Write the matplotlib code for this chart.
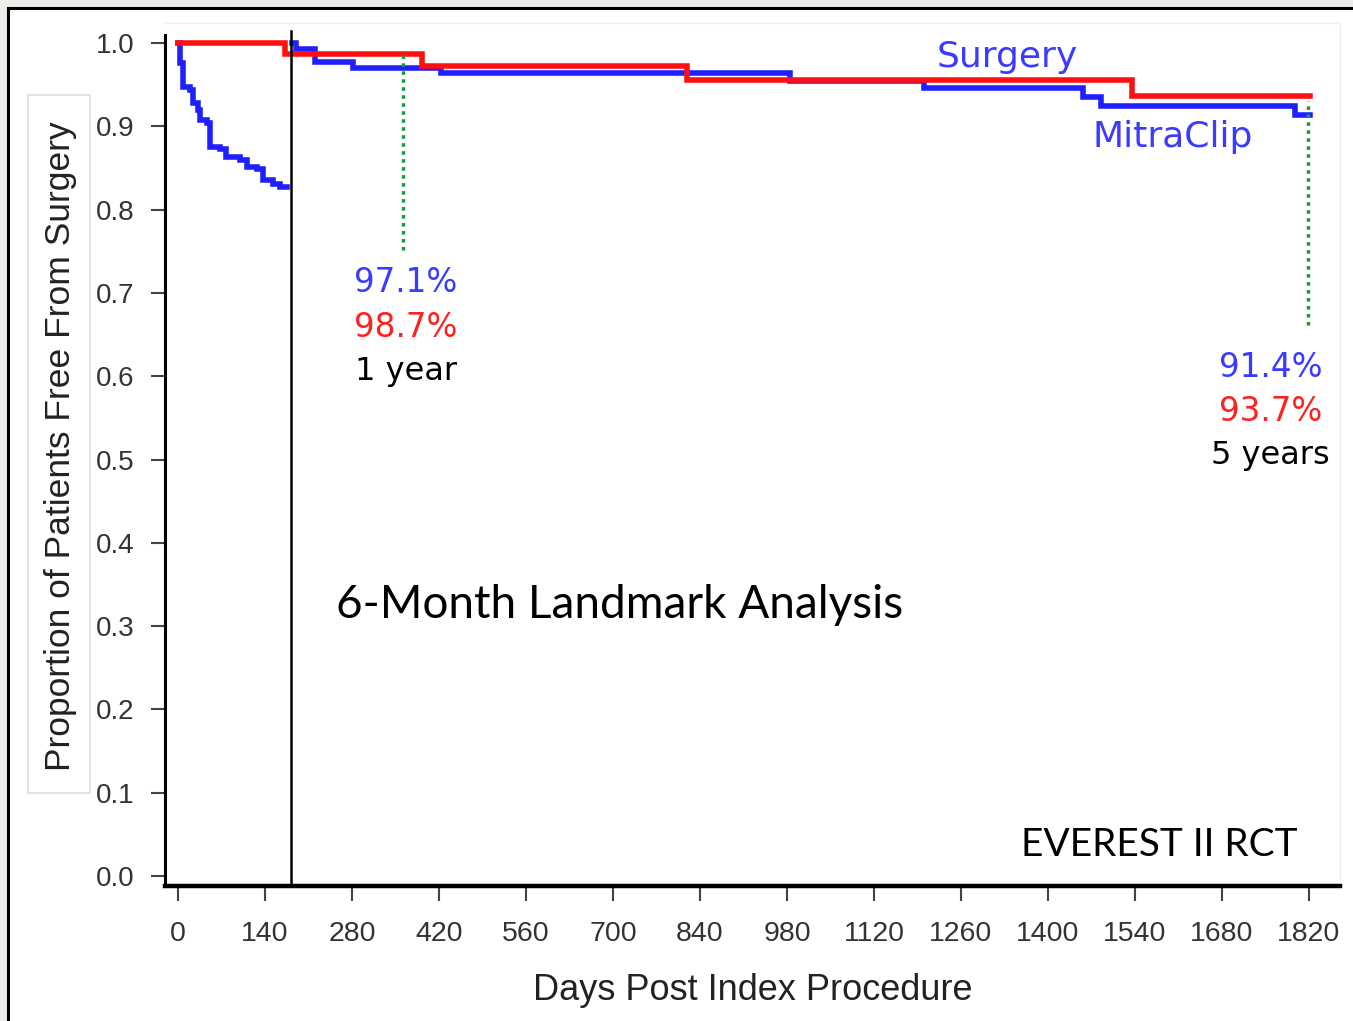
import numpy as np
import matplotlib.pyplot as plt
from matplotlib.patches import Rectangle
from matplotlib.lines import Line2D

# Kaplan-Meier steps (days, proportion)
clip_pre_t = [0, 3, 8.6, 19, 24.7, 32.7, 35.4, 46, 51.5, 67.6, 78, 100, 110.5, 126.6, 137, 153, 164, 175]
clip_pre_s = [1.0, 0.976, 0.947, 0.944, 0.928, 0.920, 0.908, 0.904, 0.875, 0.873, 0.863, 0.860, 0.851, 0.849, 0.836, 0.831, 0.827, 0.827]

clip_post_t = [183, 190, 220, 282, 424, 985, 1200, 1457, 1486, 1797, 1822]
clip_post_s = [1.0, 0.993, 0.977, 0.970, 0.964, 0.954, 0.946, 0.935, 0.924, 0.914, 0.914]

surg_t = [0, 172, 392, 819, 1535, 1822]
surg_s = [1.0, 0.987, 0.972, 0.956, 0.936, 0.936]

landmark_day = 182
marks_day = [362, 1819]
marks_top = [0.985, 0.930]
marks_bottom = [0.751, 0.661]

x_ticks = np.arange(0, 1821, 140)
y_ticks = np.round(np.arange(0, 1.01, 0.1), 1)

BLUE = "#1f1fff"
RED = "#ff1010"
TBLUE = "#3b3bff"
TRED = "#ff2020"

W, H = 1353, 1021
fig = plt.figure(figsize=(W / 100, H / 100), dpi=100)
fig.patch.set_facecolor("#eeede9")

# white page with black frame (screenshot edge)
fig.patches.append(Rectangle((8 / W, -0.01), 1.02, (H - 8) / H + 0.01, transform=fig.transFigure,
                             facecolor="white", edgecolor="black", linewidth=2.2, zorder=-5))
# faint plot-area border lines
fig.lines.append(Line2D([165 / W, 1340 / W], [1 - 23 / H, 1 - 23 / H], transform=fig.transFigure,
                        color="#eeeeee", lw=1))
fig.lines.append(Line2D([1340 / W, 1340 / W], [1 - 23 / H, 1 - 880 / H], transform=fig.transFigure,
                        color="#eeeeee", lw=1))

ax = fig.add_axes([165 / W, (H - 886) / H, (1340 - 165) / W, (886 - 35) / H])
ax.set_xlim(-20.9, 1870)
ax.set_ylim(-0.012, 1.0096)

ax.step(clip_pre_t, clip_pre_s, where="post", color=BLUE, lw=4, solid_joinstyle="miter")
ax.step(clip_post_t, clip_post_s, where="post", color=BLUE, lw=4, solid_joinstyle="miter")
ax.step(surg_t, surg_s, where="post", color=RED, lw=4, solid_joinstyle="miter")

ax.axvline(landmark_day, ymax=1.005, color="black", lw=1.8, clip_on=False)
for d, top, bot in zip(marks_day, marks_top, marks_bottom):
    ax.plot([d, d], [bot, top], color="#1a9a3a", lw=2.5, linestyle=(0, (1, 1.3)))

for s in ["top", "right"]:
    ax.spines[s].set_visible(False)
ax.spines["left"].set_linewidth(2.2)
ax.spines["bottom"].set_linewidth(3.2)

ax.set_xticks(x_ticks)
ax.set_yticks(y_ticks)
ax.set_yticklabels([f"{v:.1f}" for v in y_ticks])
ax.tick_params(axis="y", length=10, width=1.5, color="#444444", pad=12,
               labelsize=20, labelcolor="#333333")
ax.tick_params(axis="x", length=11, width=1.5, color="#444444", pad=14,
               labelsize=20.5, labelcolor="#333333")
for lbl in ax.get_xticklabels() + ax.get_yticklabels():
    lbl.set_fontfamily("Liberation Sans")

ax.set_xlabel("Days Post Index Procedure", fontsize=26, family="Liberation Sans",
              color="#222222", labelpad=19)

# y label inside a faint box
fig.patches.append(Rectangle((28 / W, 1 - 793 / H), 62 / W, 698 / H, transform=fig.transFigure,
                             facecolor="white", edgecolor="#dddddd", lw=1.2))
fig.text(61 / W, 1 - 446 / H, "Proportion of Patients Free From Surgery", rotation=90,
         ha="center", va="center", fontsize=25.5, family="Liberation Sans", color="#222222")

ax.text(1334, 0.983, "Surgery", color=TBLUE, fontsize=26, ha="center", va="center")
ax.text(1601, 0.887, "MitraClip", color=TBLUE, fontsize=26, ha="center", va="center")

ax.text(367, 0.712, "97.1%", color=TBLUE, fontsize=23.5, ha="center", va="center")
ax.text(367, 0.659, "98.7%", color=TRED, fontsize=23.5, ha="center", va="center")
ax.text(367, 0.606, "1 year", color="black", fontsize=23, ha="center", va="center")

ax.text(1758, 0.610, "91.4%", color=TBLUE, fontsize=23.5, ha="center", va="center")
ax.text(1758, 0.558, "93.7%", color=TRED, fontsize=23.5, ha="center", va="center")
ax.text(1758, 0.505, "5 years", color="black", fontsize=23, ha="center", va="center")

ax.text(254, 0.325, "6-Month Landmark Analysis", color="black", fontsize=33,
        family="Lato", ha="left", va="center")
ax.text(1802, 0.0375, "EVEREST II RCT", color="black", fontsize=28,
        family="Lato", ha="right", va="center")

fig.savefig("out.png", dpi=100, facecolor=fig.get_facecolor())
